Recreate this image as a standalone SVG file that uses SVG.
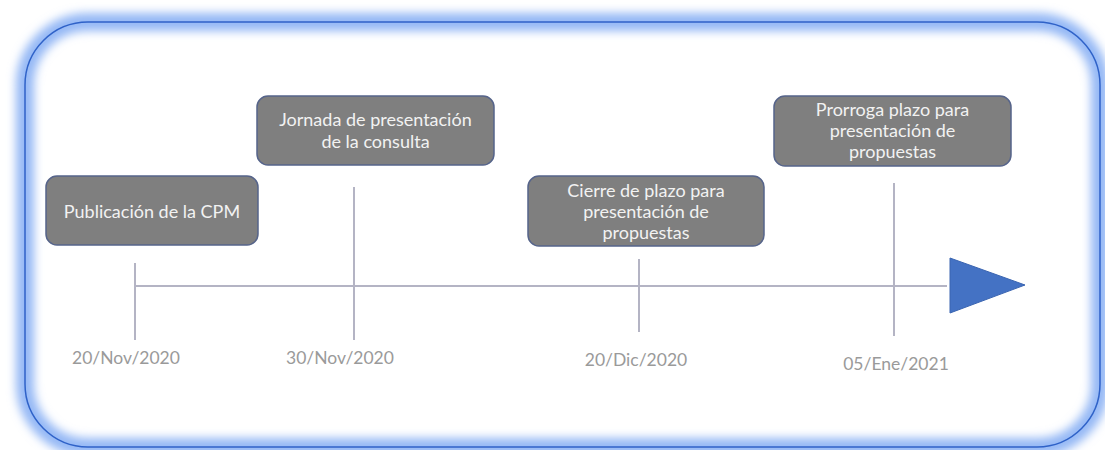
<svg xmlns="http://www.w3.org/2000/svg" width="1105" height="450" viewBox="0 0 1105 450">
<defs>
<filter id="glow" x="-10%" y="-10%" width="120%" height="120%">
<feGaussianBlur stdDeviation="5"/>
</filter>
<style>
.box{fill:#7f7f7f;stroke:#56648a;stroke-width:1.5}
.bt{font-family:Lato,"Open Sans",sans-serif;font-size:18px;fill:#f2f2f2;text-anchor:middle}
.dt{font-family:Lato,"Open Sans",sans-serif;font-size:17.5px;fill:#9a9a9a;text-anchor:middle}
.ln{stroke:#b4b4c4;stroke-width:2;fill:none}
</style>
</defs>
<rect width="1105" height="450" fill="#ffffff"/>
<g id="frame">
<rect x="25" y="22" width="1075" height="425" rx="63" fill="none" stroke="#94b8f5" stroke-width="18" filter="url(#glow)"/>
<rect x="25" y="22" width="1075" height="425" rx="63" fill="none" stroke="#2f62c8" stroke-width="1.5"/>
</g>
<g id="connectors">
<line class="ln" x1="135" y1="286" x2="947" y2="286"/>
<line class="ln" x1="135" y1="263" x2="135" y2="340"/>
<line class="ln" x1="354" y1="187" x2="354" y2="340"/>
<line class="ln" x1="639" y1="259" x2="639" y2="332"/>
<line class="ln" x1="894" y1="183" x2="894" y2="336"/>
<polygon points="950,258 1025,285 950,313" fill="#4472c4" stroke="#3a64b0" stroke-width="1"/>
</g>
<g id="node1">
<rect class="box" x="46" y="176" width="212" height="69" rx="11"/>
<text class="bt" x="152" y="218">Publicación de la CPM</text>
</g>
<g id="node2">
<rect class="box" x="257" y="96" width="237" height="69" rx="11"/>
<text class="bt" x="375.5" y="126">Jornada de presentación</text>
<text class="bt" x="375.5" y="148">de la consulta</text>
</g>
<g id="node3">
<rect class="box" x="528" y="176" width="236" height="70" rx="11"/>
<text class="bt" x="646" y="197">Cierre de plazo para</text>
<text class="bt" x="646" y="218">presentación de</text>
<text class="bt" x="646" y="239">propuestas</text>
</g>
<g id="node4">
<rect class="box" x="774" y="96" width="237" height="70" rx="11"/>
<text class="bt" x="892.5" y="116">Prorroga plazo para</text>
<text class="bt" x="892.5" y="137">presentación de</text>
<text class="bt" x="892.5" y="158">propuestas</text>
</g>
<g id="dates">
<text class="dt" x="126" y="364">20/Nov/2020</text>
<text class="dt" x="340" y="364">30/Nov/2020</text>
<text class="dt" x="636" y="366">20/Dic/2020</text>
<text class="dt" x="896" y="370">05/Ene/2021</text>
</g>
</svg>
